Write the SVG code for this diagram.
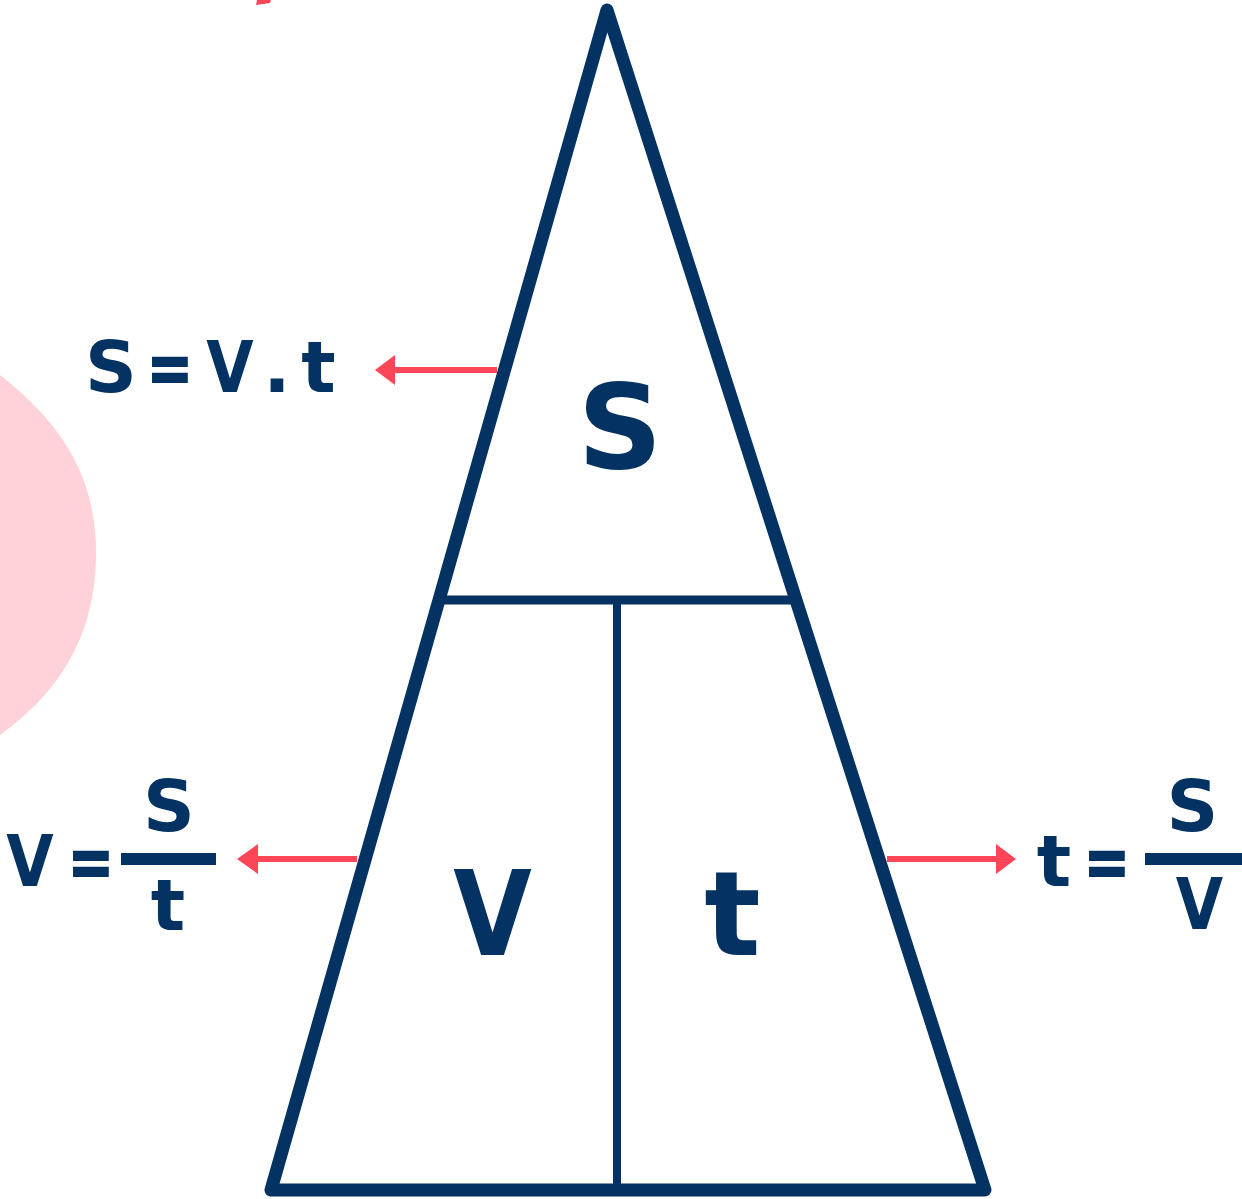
<svg xmlns="http://www.w3.org/2000/svg" width="1242" height="1199" viewBox="0 0 1242 1199">
<style>
.navy{fill:#043263}
.edge{fill:none;stroke:#043263;stroke-linecap:round;stroke-linejoin:round}
.t{font-family:"DejaVu Sans","Liberation Sans",sans-serif;font-weight:bold;fill:#043263;text-anchor:middle}
.big{font-size:118px}
.sm{font-size:72px}
.eq{stroke:#043263;stroke-width:2}
.arr{stroke:#FF4558;stroke-width:6;fill:none}
.head{fill:#FF4558}
</style>
<rect width="1242" height="1199" fill="#ffffff"/>
<g id="decor">
<path d="M-10,375 L0,375 C50,415 96,465 96,553 C96,640 55,695 0,735 L-10,735 Z" fill="#FFD1D8"/>
<polygon points="257,0 271,0 270,3 256,5" fill="#FF4558"/>
</g>
<g id="triangle">
<polygon class="edge" points="607,10 271,1190 985,1190" stroke-width="13"/>
<line class="edge" x1="441" y1="600" x2="793" y2="600" stroke-width="9" stroke-linecap="butt"/>
<line class="edge" x1="617" y1="600" x2="617" y2="1190" stroke-width="8" stroke-linecap="butt"/>
</g>
<g id="label-s"><text class="t big" x="620" y="468">S</text></g>
<g id="label-v"><text class="t big" transform="translate(492.5,955) scale(0.86,1)">V</text></g>
<g id="label-t"><text class="t big" x="732.5" y="955">t</text></g>
<g id="formula-s">
<text class="t sm" x="111" y="392">S</text>
<text class="t sm eq" transform="translate(170,392) scale(0.76,1)">=</text>
<text class="t sm" transform="translate(230,392) scale(0.85,1)">V</text>
<text class="t sm" x="277" y="392">.</text>
<text class="t sm" x="318.5" y="392">t</text>
</g>
<g id="formula-v">
<text class="t sm" transform="translate(30,886) scale(0.85,1)">V</text>
<text class="t sm eq" transform="translate(91,886) scale(0.76,1)">=</text>
<text class="t sm" x="169" y="831">S</text>
<rect class="navy" x="121" y="853" width="95" height="12"/>
<text class="t sm" x="168" y="930">t</text>
</g>
<g id="formula-t">
<text class="t sm" x="1054" y="886">t</text>
<text class="t sm eq" transform="translate(1107,886) scale(0.76,1)">=</text>
<text class="t sm" x="1192.5" y="831">S</text>
<rect class="navy" x="1145" y="853" width="97" height="12"/>
<text class="t sm" transform="translate(1199.5,929) scale(0.85,1)">V</text>
</g>
<g id="connectors">
<line class="arr" x1="497" y1="370" x2="393" y2="370"/>
<polygon class="head" points="375,370 395,355 395,385"/>
<line class="arr" x1="357" y1="859" x2="256" y2="859"/>
<polygon class="head" points="237,859 258,844 258,874"/>
<line class="arr" x1="887" y1="859" x2="998" y2="859"/>
<polygon class="head" points="1016,859 996,844 996,874"/>
</g>
</svg>
